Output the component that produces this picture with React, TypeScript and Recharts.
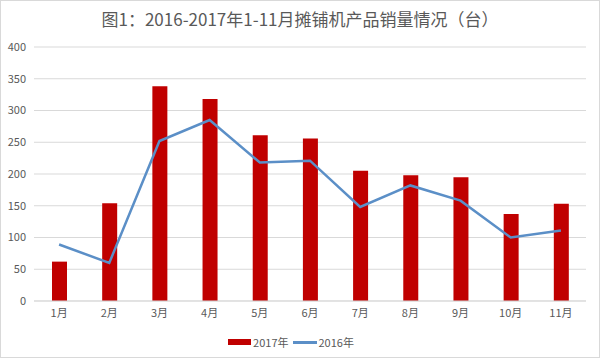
import { ComposedChart, Bar, Line, XAxis, YAxis, CartesianGrid, Legend } from "recharts"

const months = ["1月", "2月", "3月", "4月", "5月", "6月", "7月", "8月", "9月", "10月", "11月"]
const sales2017 = [62, 154, 338, 318, 261, 256, 205, 198, 195, 137, 153]
const sales2016 = [89, 60, 252, 285, 218, 221, 148, 182, 158, 100, 111]
const yTicks = [0, 50, 100, 150, 200, 250, 300, 350, 400]

const data = months.map((m, i) => ({ month: m, y2017: sales2017[i], y2016: sales2016[i] }))

const font = '"Noto Sans CJK SC", "Noto Sans", sans-serif'
const textColor = "#595959"

function LegendContent({ payload }: any) {
    // bar entry first, like the original
    const items = [...(payload || [])].sort((a: any, b: any) => (a.type === "line" ? 1 : 0) - (b.type === "line" ? 1 : 0))
    return (
        <div style={{ display: "flex", justifyContent: "center", alignItems: "center", height: 20, fontFamily: font, fontSize: 11, color: textColor }}>
            {items.map((p: any) => (
                <div key={p.value} style={{ display: "flex", alignItems: "center", marginRight: 4 }}>
                    {p.type === "line" ? (
                        <span style={{ display: "inline-block", width: 24, height: 3, background: p.color, marginRight: 2 }} />
                    ) : (
                        <span style={{ display: "inline-block", width: 23, height: 6, background: p.color, marginRight: 2 }} />
                    )}
                    <span>{p.value}</span>
                </div>
            ))}
        </div>
    )
}

export default function App() {
    return (
        <div style={{ position: "absolute", left: 0, top: 0, width: 598, height: 356, border: "1px solid #d9d9d9", background: "#fff", fontFamily: font }}>
            <div style={{ position: "absolute", top: 6, left: 0, width: 598, textAlign: "center", fontSize: 17, color: textColor, lineHeight: "24px" }}>
                图1：2016-2017年1-11月摊铺机产品销量情况（台）
            </div>
            <div style={{ position: "absolute", left: -1, top: -1 }}>
                <ComposedChart width={600} height={360} data={data} margin={{ top: 47, right: 14, left: 0, bottom: 8 }} barCategoryGap="35%">
                    <CartesianGrid vertical={false} stroke="#d9d9d9" />
                    <XAxis
                        dataKey="month"
                        height={31}
                        tickLine={false}
                        axisLine={{ stroke: "#d9d9d9" }}
                        tick={{ fontSize: 11, fill: textColor, fontFamily: font }}
                        interval={0}
                    />
                    <YAxis
                        width={34}
                        domain={[0, 400]}
                        ticks={yTicks}
                        tickLine={false}
                        axisLine={false}
                        tick={{ fontSize: 11, fill: textColor, fontFamily: font }}
                    />
                    <Legend verticalAlign="bottom" height={20} content={<LegendContent />} />
                    <Bar dataKey="y2017" name="2017年" fill="#C00000" barSize={15} isAnimationActive={false} legendType="rect" />
                    <Line
                        dataKey="y2016"
                        name="2016年"
                        type="linear"
                        stroke="#5B8FC7"
                        strokeWidth={2.5}
                        dot={false}
                        isAnimationActive={false}
                        legendType="line"
                    />
                </ComposedChart>
            </div>
        </div>
    )
}
